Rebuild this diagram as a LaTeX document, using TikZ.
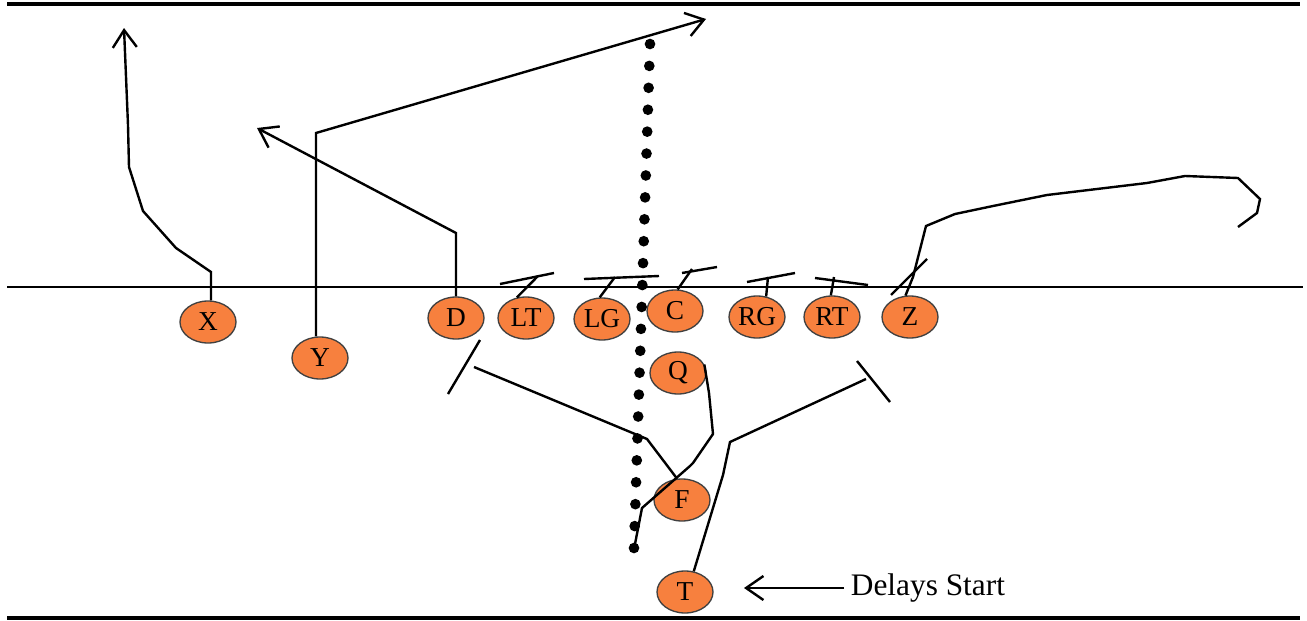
\documentclass[tikz,border=0pt]{standalone}
\usepackage{fontspec}
\setmainfont{Liberation Serif}
\usetikzlibrary{arrows.meta,shapes.geometric}
\definecolor{plorange}{RGB}{247,128,62}
\begin{document}
\begin{tikzpicture}[x=0.75pt,y=-0.75pt,
  player/.style={ellipse, draw=black!75, line width=1pt, fill=plorange,
    minimum width=42pt, minimum height=31.5pt, inner sep=0pt,
    font=\fontsize{20.5}{22}\selectfont},
  route/.style={line width=1.8pt},
  barb/.style={-{Straight Barb[length=13pt,width=18pt]}},
  field/.style={line width=1.9pt},
  thickfield/.style={line width=2.4pt},
  lbl/.style={font=\fontsize{23.5}{25}\selectfont, anchor=west, inner sep=0pt, inner xsep=5pt}
]
\useasboundingbox (0,0) rectangle (1307,621);

% field lines
\draw[thickfield] (7,4) -- (1300,4);
\draw[field] (7,287) -- (1303,287);
\draw[thickfield] (7,618) -- (1300,618);

% players
\node[player] (X)  at (208,322) {X};
\node[player] (Y)  at (320,358) {Y};
\node[player] (D)  at (456,318) {D};
\node[player] (LT) at (526,318) {LT};
\node[player] (LG) at (602,319) {LG};
\node[player] (C)  at (675,311) {C};
\node[player] (RG) at (757,317) {RG};
\node[player] (RT) at (832,317) {RT};
\node[player] (Z)  at (910,317) {Z};
\node[player] (Q)  at (678,373) {Q};
\node[player] (F)  at (682,500) {F};
\node[player] (T)  at (685,592) {T};

% ball path dots
\foreach \i in {0,...,23}
  \fill ({650-16*\i/23},{44+504*\i/23}) circle (4pt);

% X route
\coordinate (xa) at (211,272);
\coordinate (xb) at (176,248);
\coordinate (xc) at (143,211);
\coordinate (xd) at (129,167);
\coordinate (xe) at (128,125);
\coordinate (xend) at (124,28);
\draw[route,barb] (xa |- X.north) -- (xa) -- (xb) -- (xc) -- (xd) -- (xe) -- (xend);

% Y route
\coordinate (ya) at (316,133);
\coordinate (yend) at (706,19);
\draw[route,barb] (ya |- Y.north) -- (ya) -- (yend);

% D route
\coordinate (da) at (456,233);
\coordinate (dend) at (257,128);
\draw[route,barb] (D.north) -- (da) -- (dend);

% line blocks
\coordinate (lt1) at (538,276);
\draw[route] (LT.114) -- (lt1);
\draw[route] (500,284) -- (554,273);
\coordinate (lg1) at (615,277);
\draw[route] (LG.96) -- (lg1);
\draw[route] (584,279) -- (659,276);
\coordinate (c1) at (692,269);
\draw[route] (C.83) -- (c1);
\draw[route] (682,273) -- (717,267);
\coordinate (rg1) at (768,277);
\draw[route] (RG.66) -- (rg1);
\draw[route] (747,282) -- (795,273);
\coordinate (rt1) at (834,277);
\draw[route] (RT.93) -- (rt1);
\draw[route] (815,278) -- (868,285);

% Z route
\coordinate (z1) at (913,277);
\draw[route] (Z.102) -- (z1) -- (926,226) -- (955,214) -- (993,206) -- (1047,195)
  -- (1147,183) -- (1185,176) -- (1238,178) -- (1260,199) -- (1257,213) -- (1238,227);
\draw[route] (891,295) -- (927,259);

% Q route
\coordinate (q6) at (635,544);
\draw[route] (Q.18) -- (709,393) -- (713,434) -- (693,463) -- (690,466) -- (642,508) -- (q6);

% F route
\coordinate (f2) at (474,367);
\draw[route] (F.103) -- (647,439) -- (f2);
\draw[route] (448,394) -- (480,340);

% T route
\coordinate (t3) at (866,379);
\draw[route] (T.67) -- (723,475) -- (730,442) -- (t3);
\draw[route] (857,361) -- (890,402);

% label
\node[lbl] (delay) at (844,588) {Delays Start};
\coordinate (dtip) at (744,588);
\draw[route,barb] (delay.west) -- (dtip);
\end{tikzpicture}
\end{document}
